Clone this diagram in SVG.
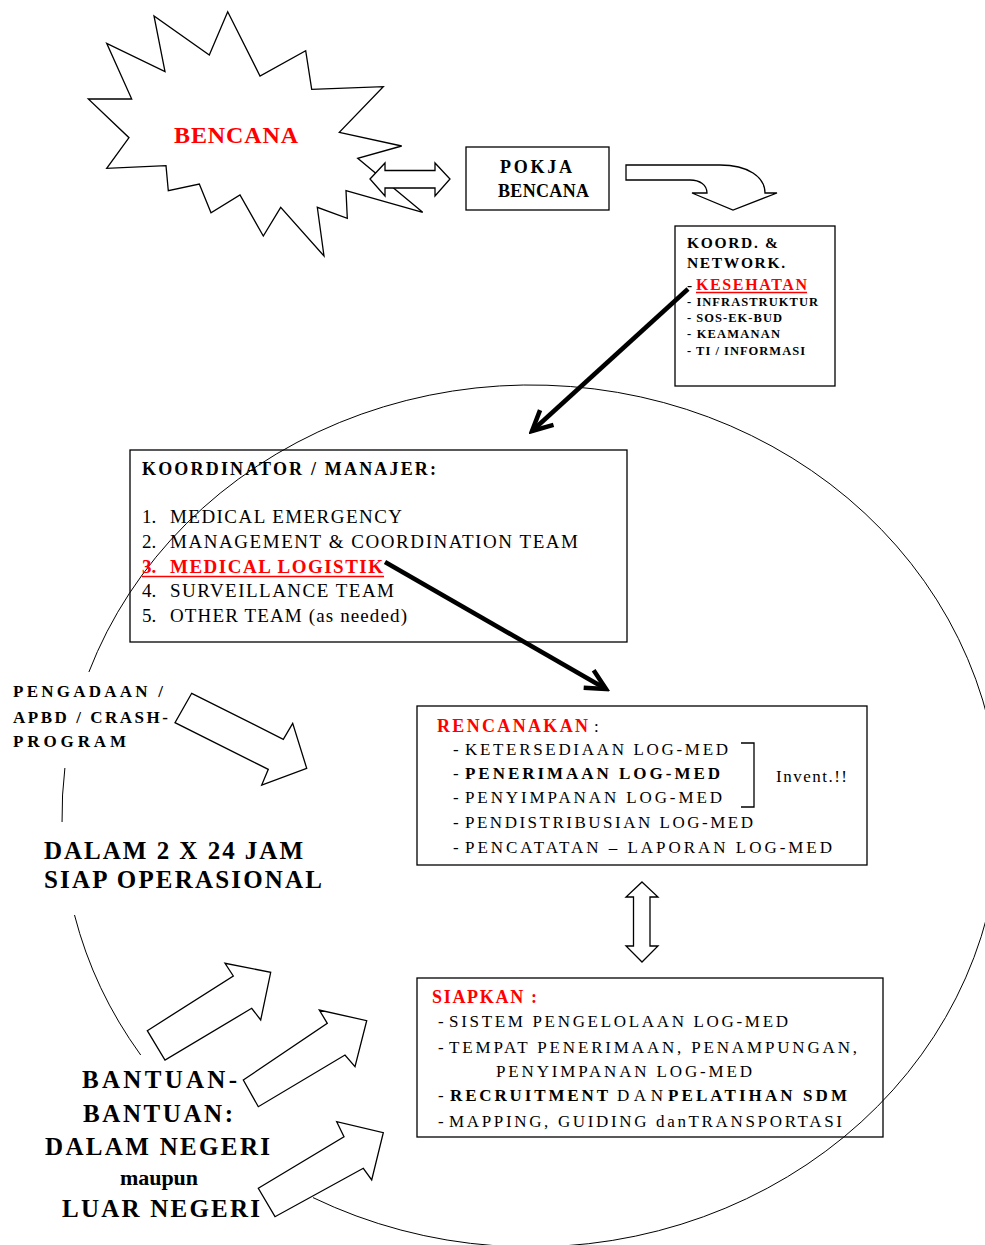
<svg xmlns="http://www.w3.org/2000/svg" width="985" height="1245" viewBox="0 0 985 1245">
<defs>
<style>
.t{font-family:'Liberation Serif','Tinos','Times New Roman','DejaVu Serif',serif;fill:#000}
.b{font-weight:bold}
.red{fill:#ff0000}
.box{fill:none;stroke:#000;stroke-width:1.3}
.hol{fill:#fff;stroke:#000;stroke-width:1.3;stroke-linejoin:miter}
.circ{fill:none;stroke:#000;stroke-width:1}
.thick{fill:none;stroke:#000;stroke-width:4.5;marker-end:url(#vh)}
</style>
<marker id="vh" markerUnits="userSpaceOnUse" viewBox="-24 -14 28 28" markerWidth="28" markerHeight="28" refX="0" refY="0" orient="auto">
<path d="M-20,-10 L0,0 L-20,10" fill="none" stroke="#000" stroke-width="4.5" stroke-linejoin="miter"/>
</marker>
</defs>
<rect width="985" height="1245" fill="#fff"/>

<g id="cycle">
<path class="circ" d="M313,1197.6 A469,431 0 1 0 88.9,672"/>
<path class="circ" d="M64.9,768 A469,431 0 0 0 62.05,822"/>
<path class="circ" d="M74.5,915 A469,431 0 0 0 140.7,1055"/>
</g>

<g id="bencana">
<polygon class="hol" points="227.7,11.7 260,76 305.7,50.7 311.7,89.3 383.3,86.7 339.3,132.3 401.7,146 357.7,158.3 422.7,212.3 346,190.7 347.3,218.3 317.3,207.3 324,256 280.7,207.3 263.3,236 240,195 211,212.7 199.3,184 168.3,190.7 166,165.7 106.7,168.3 129,137.7 88.3,99 131.7,99 106.7,43.3 165,71.7 154,16 209.3,55"/>
<text class="t b red" x="174" y="143" font-size="24" textLength="124" lengthAdjust="spacing">BENCANA</text>
</g>

<g id="pokja">
<rect class="box" x="466" y="147" width="143" height="63"/>
<text class="t b" x="500" y="173" font-size="18" textLength="72" lengthAdjust="spacing">POKJA</text>
<text class="t b" x="498" y="197" font-size="18" textLength="91" lengthAdjust="spacing">BENCANA</text>
</g>

<g id="koord-network">
<rect class="box" x="675" y="226" width="160" height="160"/>
<text class="t b" x="687" y="248" font-size="15.5" textLength="91" lengthAdjust="spacing">KOORD. &amp;</text>
<text class="t b" x="687" y="268" font-size="15.5" textLength="98" lengthAdjust="spacing">NETWORK.</text>
<text class="t b" x="687" y="290" font-size="15.5">-</text>
<text class="t b red" x="696" y="290" font-size="16" textLength="111" lengthAdjust="spacing">KESEHATAN</text>
<line x1="696" y1="292.5" x2="807" y2="292.5" stroke="#ff0000" stroke-width="1.5"/>
<text class="t b" x="687" y="306" font-size="12.5" textLength="131" lengthAdjust="spacing">- INFRASTRUKTUR</text>
<text class="t b" x="687" y="322" font-size="12.5" textLength="95" lengthAdjust="spacing">- SOS-EK-BUD</text>
<text class="t b" x="687" y="338" font-size="12.5" textLength="93" lengthAdjust="spacing">- KEAMANAN</text>
<text class="t b" x="687" y="355" font-size="12.5" textLength="118" lengthAdjust="spacing">- TI / INFORMASI</text>
</g>

<g id="koordinator">
<rect class="box" x="130" y="450" width="497" height="192"/>
<text class="t b" x="142" y="475" font-size="18" textLength="294" lengthAdjust="spacing">KOORDINATOR / MANAJER:</text>
<text class="t" x="142" y="523" font-size="19">1.</text>
<text class="t" x="170" y="523" font-size="19" textLength="232" lengthAdjust="spacing">MEDICAL EMERGENCY</text>
<text class="t" x="142" y="548" font-size="19">2.</text>
<text class="t" x="170" y="548" font-size="19" textLength="408" lengthAdjust="spacing">MANAGEMENT &amp; COORDINATION TEAM</text>
<text class="t b red" x="142" y="573" font-size="19">3.</text>
<text class="t b red" x="170" y="573" font-size="19" textLength="213" lengthAdjust="spacing">MEDICAL LOGISTIK</text>
<line x1="142" y1="576.5" x2="384" y2="576.5" stroke="#ff0000" stroke-width="1.6"/>
<text class="t" x="142" y="597" font-size="19">4.</text>
<text class="t" x="170" y="597" font-size="19" textLength="224" lengthAdjust="spacing">SURVEILLANCE TEAM</text>
<text class="t" x="142" y="622" font-size="19">5.</text>
<text class="t" x="170" y="622" font-size="19" textLength="237" lengthAdjust="spacing">OTHER TEAM (as needed)</text>
</g>

<g id="rencanakan">
<rect class="box" x="417" y="706" width="450" height="159"/>
<text class="t b red" x="437" y="732" font-size="18" textLength="151" lengthAdjust="spacing">RENCANAKAN</text>
<text class="t" x="594" y="732" font-size="17">:</text>
<text class="t" x="453" y="755" font-size="17">-</text>
<text class="t" x="465" y="755" font-size="17" textLength="263" lengthAdjust="spacing">KETERSEDIAAN LOG-MED</text>
<text class="t" x="453" y="779" font-size="17">-</text>
<text class="t b" x="465" y="779" font-size="17" textLength="255" lengthAdjust="spacing">PENERIMAAN LOG-MED</text>
<text class="t" x="453" y="803" font-size="17">-</text>
<text class="t" x="465" y="803" font-size="17" textLength="257" lengthAdjust="spacing">PENYIMPANAN LOG-MED</text>
<text class="t" x="453" y="828" font-size="17">-</text>
<text class="t" x="465" y="828" font-size="17" textLength="288" lengthAdjust="spacing">PENDISTRIBUSIAN LOG-MED</text>
<text class="t" x="453" y="853" font-size="17">-</text>
<text class="t" x="465" y="853" font-size="17" textLength="367" lengthAdjust="spacing">PENCATATAN – LAPORAN LOG-MED</text>
<polyline points="741,743 754,743 754,807 741,807" fill="none" stroke="#000" stroke-width="1.3"/>
<text class="t" x="776" y="782" font-size="17" textLength="71" lengthAdjust="spacing">Invent.!!</text>
</g>

<g id="siapkan">
<rect class="box" x="417" y="978" width="466" height="159"/>
<text class="t b red" x="432" y="1003" font-size="18" textLength="105" lengthAdjust="spacing">SIAPKAN :</text>
<text class="t" x="438" y="1027" font-size="17">-</text>
<text class="t" x="449" y="1027" font-size="17" textLength="339" lengthAdjust="spacing">SISTEM PENGELOLAAN LOG-MED</text>
<text class="t" x="438" y="1053" font-size="17">-</text>
<text class="t" x="449" y="1053" font-size="17" textLength="408" lengthAdjust="spacing">TEMPAT PENERIMAAN, PENAMPUNGAN,</text>
<text class="t" x="496" y="1077" font-size="17" textLength="256" lengthAdjust="spacing">PENYIMPANAN LOG-MED</text>
<text class="t" x="438" y="1101" font-size="17">-</text>
<text class="t b" x="450" y="1101" font-size="17" textLength="158" lengthAdjust="spacing">RECRUITMENT</text>
<text class="t" x="617" y="1101" font-size="17" textLength="46" lengthAdjust="spacing">DAN</text>
<text class="t b" x="668" y="1101" font-size="17" textLength="179" lengthAdjust="spacing">PELATIHAN SDM</text>
<text class="t" x="438" y="1127" font-size="17">-</text>
<text class="t" x="449" y="1127" font-size="17" textLength="393" lengthAdjust="spacing">MAPPING, GUIDING danTRANSPORTASI</text>
</g>

<g id="pengadaan">
<text class="t b" x="13" y="697" font-size="17" textLength="150" lengthAdjust="spacing">PENGADAAN /</text>
<text class="t b" x="13" y="723" font-size="17" textLength="155" lengthAdjust="spacing">APBD / CRASH-</text>
<text class="t b" x="13" y="747" font-size="17" textLength="113" lengthAdjust="spacing">PROGRAM</text>
</g>

<g id="siap-operasional">
<text class="t b" x="44" y="859" font-size="25" textLength="259" lengthAdjust="spacing">DALAM 2 X 24 JAM</text>
<text class="t b" x="44" y="888" font-size="25" textLength="278" lengthAdjust="spacing">SIAP OPERASIONAL</text>
</g>

<g id="bantuan">
<text class="t b" x="82" y="1088" font-size="25" textLength="155" lengthAdjust="spacing">BANTUAN-</text>
<text class="t b" x="83" y="1122" font-size="25" textLength="150" lengthAdjust="spacing">BANTUAN:</text>
<text class="t b" x="45" y="1155" font-size="25" textLength="225" lengthAdjust="spacing">DALAM NEGERI</text>
<text class="t b" x="120" y="1185" font-size="22" textLength="78" lengthAdjust="spacing">maupun</text>
<text class="t b" x="62" y="1217" font-size="25" textLength="198" lengthAdjust="spacing">LUAR NEGERI</text>
</g>

<g id="connectors">
<polygon class="hol" points="370,179 385,163 385,170.5 435,170.5 435,163 450,179 435,196 435,188 385,188 385,196"/>
<path class="hol" d="M626,165 L720,165 C748,165 765,177 765,193 L777,193 L733,210 L692,193 L707,193 C707,185 700,180 690,180 L626,180 Z"/>
<line class="thick" x1="688" y1="289" x2="532" y2="431"/>
<line class="thick" x1="385" y1="562" x2="606" y2="689"/>
<polygon class="hol" points="191.7,693.3 283.3,739.3 292.7,723.3 306.7,768.3 261.7,785 268.3,769.3 175,722.7"/>
<polygon class="hol" points="642,882 658,897 650,897 650,946 658,946 642,962 626,946 633.5,946 633.5,897 626,897"/>
<polygon class="hol" points="147.3,1030.7 233.3,976 225,963.3 270.7,972.3 260.7,1020 251.7,1008.3 165,1060"/>
<polygon class="hol" points="243.3,1080 327.3,1023.3 319.3,1010 366.7,1020.7 355,1066.7 345,1055 258.3,1106.7"/>
<polygon class="hol" points="258.3,1188.3 344,1136.7 336.7,1121.7 383.3,1132.7 371.7,1180 363.3,1168.3 275,1216.7"/>
</g>
</svg>
